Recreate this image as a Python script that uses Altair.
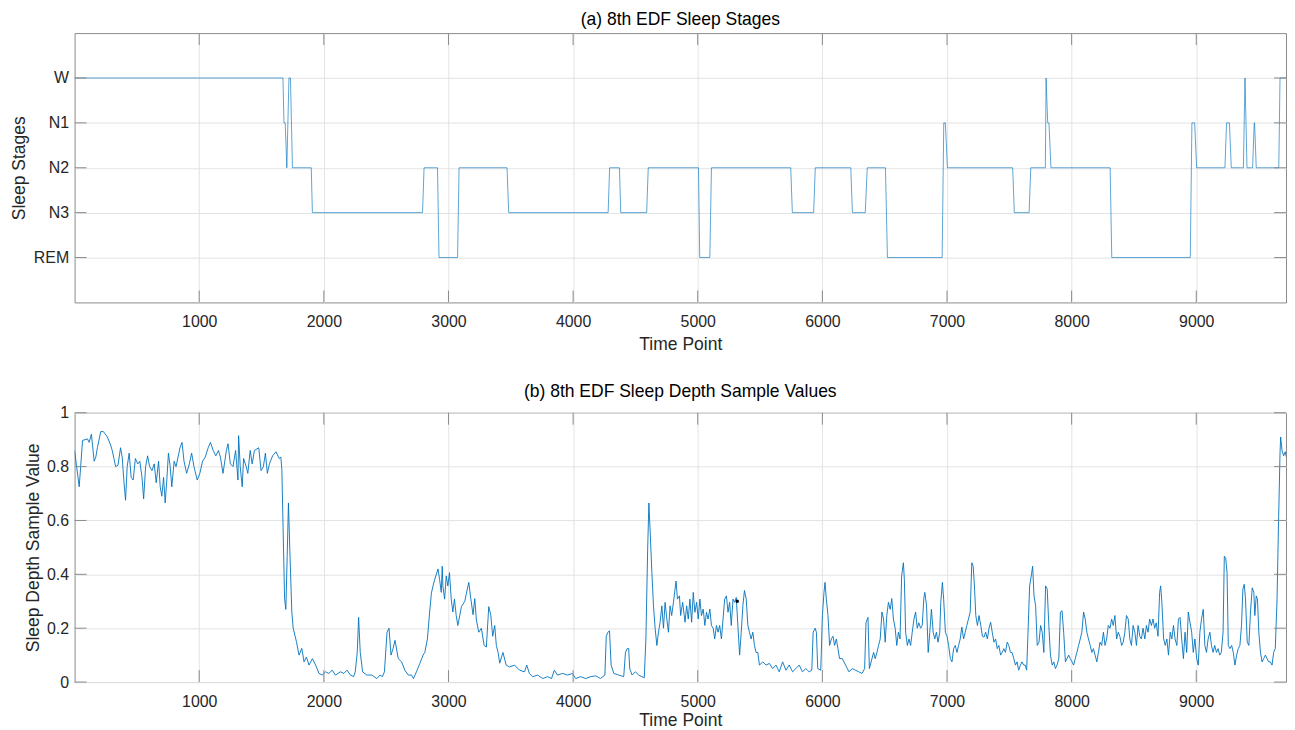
import altair as alt
import pandas as pd

# ---------------- data ----------------
stage_labels = ["REM", "N3", "N2", "N1", "W"]

seg_start = [0, 1680, 1703, 1720, 1748, 1908, 2804, 2924, 3085, 3483, 4293, 4382, 4603,
             5016, 5110, 5759, 5943, 6241, 6360, 6522, 6974, 7003, 7540, 7672, 7795,
             7808, 7834, 8322, 8965, 9003, 9243, 9281, 9391, 9407, 9465, 9481, 9672]
seg_end = [1672, 1690, 1703, 1732, 1899, 2792, 2912, 3073, 3470, 4281, 4372, 4590, 5006,
           5097, 5746, 5930, 6228, 6344, 6506, 6961, 6987, 7527, 7659, 7789, 7795,
           7818, 8309, 8952, 8987, 9230, 9266, 9378, 9391, 9452, 9468, 9662, 9720]
seg_stage = ["W", "N1", "N2", "W", "N2", "N3", "N2", "REM", "N2", "N3", "N2", "N3", "N2",
             "REM", "N2", "N3", "N2", "N3", "N2", "REM", "N1", "N2", "N3", "N2", "W",
             "N1", "N2", "REM", "N1", "N2", "N1", "N2", "W", "N2", "N1", "N2", "W"]

depth_t = [
    0, 37, 64, 103, 117, 135, 157, 170, 183, 210, 231, 263, 289, 302, 316, 329, 348, 369, 382, 395,
    409, 422, 438, 454, 470, 488, 507, 523, 541, 554, 570, 586, 602, 621, 639, 655, 674, 687, 700, 714,
    727, 740, 753, 767, 780, 799, 814, 846, 862, 878, 899, 921, 939, 958, 984, 1005, 1027, 1048, 1072, 1090,
    1112, 1133, 1154, 1170, 1191, 1218, 1231, 1250, 1271, 1292, 1311, 1316, 1329, 1345, 1356, 1377, 1390, 1409, 1425, 1443,
    1478, 1496, 1515, 1531, 1547, 1563, 1589, 1616, 1642, 1655, 1663, 1674, 1685, 1695, 1706, 1716, 1727, 1743, 1754, 1780,
    1801, 1823, 1841, 1860, 1881, 1908, 1934, 1961, 1987, 2014, 2040, 2067, 2093, 2133, 2160, 2186, 2213, 2239, 2252, 2268,
    2279, 2292, 2311, 2345, 2385, 2425, 2451, 2470, 2486, 2507, 2523, 2539, 2555, 2571, 2597, 2624, 2650, 2677, 2703, 2719,
    2743, 2770, 2796, 2810, 2831, 2849, 2863, 2876, 2889, 2916, 2929, 2942, 2950, 2955, 2969, 2982, 2995, 3008, 3022, 3035,
    3048, 3062, 3075,
    3104, 3131, 3144, 3163, 3179, 3197, 3211, 3224, 3243, 3264, 3286, 3304, 3323, 3339, 3355, 3371, 3384, 3398, 3411,
    3437, 3463, 3490, 3530, 3570, 3610, 3628, 3649, 3676, 3716, 3756, 3795, 3827, 3849, 3875, 3915, 3955, 3995, 4021, 4061,
    4101, 4141, 4181, 4220, 4255, 4266, 4279, 4292, 4305, 4327, 4367, 4406, 4420, 4433, 4446, 4454, 4473, 4499, 4526, 4552,
    4571, 4584, 4598, 4608, 4619, 4632, 4645, 4658, 4672, 4685, 4698, 4712, 4725, 4738, 4752, 4765, 4778, 4791, 4805, 4818,
    4826, 4837, 4853, 4863, 4879, 4898, 4911, 4924, 4937, 4951, 4964, 4977, 4991, 5004, 5017, 5030, 5044, 5057, 5070, 5083,
    5097, 5110, 5124, 5136, 5150, 5163, 5176, 5190, 5203, 5216, 5230, 5243, 5256, 5269, 5283, 5296, 5309, 5322, 5336, 5349,
    5362, 5375, 5389, 5402, 5415, 5428, 5442, 5455, 5468, 5482, 5495, 5522, 5548, 5575, 5601, 5628, 5654, 5681, 5708, 5734,
    5761, 5787, 5814, 5840, 5867, 5894, 5915, 5926, 5942, 5952, 5963, 5987, 6000, 6013, 6021, 6032, 6045, 6058, 6072, 6085,
    6098, 6112, 6125, 6138, 6160, 6186, 6213, 6240,
    6265, 6292, 6318, 6339, 6350, 6366, 6377, 6398, 6411, 6424, 6438, 6451, 6464, 6478, 6491, 6504, 6517, 6530, 6544, 6557,
    6570, 6584, 6597, 6610, 6623, 6636, 6650, 6658, 6668, 6682, 6695, 6708, 6721, 6735, 6748, 6761, 6774, 6788, 6801, 6814,
    6822, 6836, 6849, 6862, 6875, 6889, 6902, 6915, 6928, 6942, 6950, 6963, 6973, 6987, 7000, 7013, 7027, 7040, 7053, 7066,
    7080, 7093, 7106, 7119, 7133, 7146, 7159, 7172, 7186, 7199, 7210, 7220, 7231, 7244, 7257, 7271, 7284, 7297, 7310, 7324,
    7337, 7350, 7363, 7377, 7390, 7403, 7416, 7430, 7443, 7456, 7469, 7483, 7496, 7509, 7522, 7536, 7549, 7562, 7575, 7589,
    7602, 7615, 7628, 7639, 7650, 7663, 7676, 7687, 7698, 7711, 7724, 7738, 7751, 7764, 7777, 7791, 7804, 7817, 7830, 7844,
    7857, 7870, 7883, 7897, 7910, 7923, 7936, 7950, 7963, 7976, 7989, 8003, 8016, 8029, 8042, 8056, 8069, 8082, 8096, 8109,
    8122, 8135, 8149, 8162, 8175, 8188, 8202, 8215, 8228, 8241, 8255, 8268, 8281, 8294, 8308, 8321, 8334, 8347, 8361, 8374,
    8387, 8401, 8414, 8427, 8440, 8454, 8467, 8480, 8493, 8507, 8520, 8533, 8547, 8560, 8573, 8587, 8600, 8613, 8626, 8640,
    8653, 8666, 8679, 8693, 8706, 8714, 8724, 8738, 8751, 8764, 8777, 8791, 8804, 8817, 8830, 8844, 8857, 8870, 8883, 8897,
    8910, 8923, 8936, 8950, 8963, 8976, 8989, 9003, 9016, 9029, 9042, 9056, 9069, 9082, 9095, 9109, 9122, 9135, 9148, 9162,
    9175, 9188, 9201, 9215, 9225, 9236, 9247, 9257, 9270, 9284, 9297, 9310, 9324, 9337, 9350, 9363, 9374, 9385, 9395, 9409,
    9422, 9435, 9449, 9462, 9470, 9481, 9491, 9502, 9515, 9528, 9541, 9555, 9568, 9581, 9594, 9608, 9621, 9634, 9648, 9661,
    9672, 9677, 9688, 9701, 9714, 9722,
]
depth_v = [
    0.86, 0.725, 0.897, 0.903, 0.89, 0.92, 0.82, 0.835, 0.87, 0.93, 0.93, 0.91, 0.88, 0.86, 0.83, 0.80, 0.805, 0.87, 0.835, 0.75,
    0.675, 0.80, 0.85, 0.76, 0.75, 0.83, 0.81, 0.82, 0.76, 0.68, 0.80, 0.84, 0.80, 0.785, 0.81, 0.74, 0.82, 0.725, 0.69, 0.76,
    0.665, 0.75, 0.85, 0.80, 0.725, 0.82, 0.80, 0.87, 0.89, 0.82, 0.775, 0.81, 0.85, 0.80, 0.75, 0.775, 0.82, 0.835, 0.87, 0.89,
    0.86, 0.84, 0.86, 0.835, 0.775, 0.86, 0.885, 0.81, 0.80, 0.86, 0.75, 0.915, 0.80, 0.725, 0.83, 0.80, 0.775, 0.86, 0.81, 0.86,
    0.87, 0.785, 0.80, 0.85, 0.775, 0.81, 0.84, 0.855, 0.83, 0.835, 0.79, 0.55, 0.31, 0.27, 0.47, 0.665, 0.49, 0.26, 0.20, 0.15,
    0.10, 0.125, 0.075, 0.093, 0.063, 0.087, 0.063, 0.032, 0.026, 0.038, 0.032, 0.044, 0.026, 0.038, 0.032, 0.044, 0.026, 0.02, 0.038, 0.11,
    0.24, 0.11, 0.038, 0.026, 0.026, 0.013, 0.026, 0.02, 0.038, 0.185, 0.20, 0.10, 0.124, 0.155, 0.087, 0.075, 0.044, 0.026, 0.026, 0.013,
    0.038, 0.069, 0.10, 0.11, 0.16, 0.26, 0.33, 0.357, 0.38, 0.42, 0.38, 0.333, 0.43, 0.357, 0.308, 0.394, 0.357, 0.406, 0.308, 0.26,
    0.308, 0.247, 0.21,
    0.28, 0.30, 0.33, 0.37, 0.31, 0.25, 0.31, 0.23, 0.185, 0.20, 0.136, 0.13, 0.28, 0.25, 0.17, 0.21, 0.136, 0.11, 0.07,
    0.11, 0.063, 0.056, 0.063, 0.044, 0.038, 0.063, 0.032, 0.02, 0.026, 0.013, 0.02, 0.013, 0.044, 0.026, 0.032, 0.026, 0.032, 0.013, 0.02,
    0.013, 0.02, 0.023, 0.013, 0.026, 0.17, 0.185, 0.19, 0.063, 0.032, 0.026, 0.02, 0.11, 0.124, 0.124, 0.05, 0.026, 0.038, 0.026, 0.02,
    0.016, 0.16, 0.49, 0.665, 0.55, 0.406, 0.283, 0.20, 0.136, 0.185, 0.222, 0.283, 0.20, 0.296, 0.234, 0.185, 0.283, 0.247, 0.296, 0.345,
    0.375, 0.308, 0.32, 0.247, 0.296, 0.222, 0.283, 0.234, 0.308, 0.222, 0.333, 0.259, 0.296, 0.234, 0.308, 0.247, 0.271, 0.21, 0.259, 0.234,
    0.271, 0.21, 0.20, 0.16, 0.21, 0.185, 0.21, 0.16, 0.234, 0.308, 0.32, 0.259, 0.296, 0.21, 0.308, 0.296, 0.314, 0.21, 0.10, 0.185,
    0.283, 0.34, 0.308, 0.21, 0.185, 0.16, 0.185, 0.136, 0.11, 0.11, 0.063, 0.075, 0.063, 0.069, 0.05, 0.063, 0.038, 0.075, 0.044, 0.063,
    0.038, 0.05, 0.063, 0.038, 0.05, 0.038, 0.044, 0.185, 0.20, 0.185, 0.05, 0.044, 0.247, 0.333, 0.37, 0.308, 0.247, 0.136, 0.16, 0.17,
    0.136, 0.16, 0.124, 0.087, 0.087, 0.063, 0.038, 0.05,
    0.044, 0.038, 0.032, 0.05, 0.22, 0.24, 0.05, 0.087, 0.11, 0.087, 0.11, 0.136, 0.16, 0.26, 0.234, 0.148, 0.247, 0.296, 0.27, 0.31,
    0.234, 0.20, 0.136, 0.185, 0.16, 0.394, 0.443, 0.38, 0.185, 0.136, 0.16, 0.136, 0.185, 0.234, 0.26, 0.20, 0.22, 0.20, 0.21, 0.31,
    0.333, 0.283, 0.11, 0.185, 0.27, 0.185, 0.16, 0.185, 0.148, 0.185, 0.296, 0.37, 0.308, 0.185, 0.17, 0.136, 0.087, 0.075, 0.124, 0.136,
    0.11, 0.136, 0.16, 0.204, 0.16, 0.185, 0.21, 0.234, 0.26, 0.443, 0.43, 0.357, 0.247, 0.21, 0.247, 0.21, 0.17, 0.167, 0.185, 0.16,
    0.20, 0.222, 0.185, 0.148, 0.16, 0.124, 0.136, 0.10, 0.11, 0.124, 0.11, 0.148, 0.136, 0.11, 0.11, 0.087, 0.063, 0.075, 0.044, 0.063,
    0.075, 0.063, 0.063, 0.044, 0.185, 0.357, 0.394, 0.43, 0.32, 0.283, 0.136, 0.148, 0.21, 0.185, 0.11, 0.357, 0.345, 0.21, 0.10, 0.063,
    0.075, 0.05, 0.063, 0.087, 0.26, 0.265, 0.185, 0.075, 0.087, 0.10, 0.087, 0.075, 0.063, 0.087, 0.11, 0.136, 0.16, 0.185, 0.26, 0.234,
    0.185, 0.16, 0.136, 0.11, 0.124, 0.10, 0.075, 0.11, 0.148, 0.136, 0.185, 0.136, 0.16, 0.21, 0.20, 0.234, 0.21, 0.247, 0.16, 0.185,
    0.17, 0.136, 0.148, 0.185, 0.247, 0.234, 0.16, 0.136, 0.21, 0.185, 0.136, 0.21, 0.17, 0.16, 0.20, 0.16, 0.21, 0.185, 0.234, 0.21,
    0.234, 0.20, 0.22, 0.17, 0.333, 0.357, 0.296, 0.16, 0.136, 0.16, 0.10, 0.185, 0.16, 0.21, 0.16, 0.136, 0.234, 0.24, 0.16, 0.087,
    0.185, 0.11, 0.26, 0.22, 0.185, 0.11, 0.16, 0.087, 0.063, 0.185, 0.234, 0.27, 0.136, 0.11, 0.16, 0.185, 0.136, 0.11, 0.136, 0.11,
    0.124, 0.10, 0.11, 0.185, 0.467, 0.461, 0.406, 0.136, 0.124, 0.136, 0.11, 0.063, 0.10, 0.124, 0.136, 0.21, 0.345, 0.363, 0.308, 0.148,
    0.136, 0.26, 0.35, 0.333, 0.247, 0.32, 0.308, 0.185, 0.11, 0.075, 0.087, 0.10, 0.087, 0.075, 0.075, 0.063, 0.11, 0.124, 0.308, 0.615,
    0.85, 0.91, 0.86, 0.84, 0.855, 0.836,
]

marker_t = [5317]
marker_v = [0.30]

x_ticks = [1000, 2000, 3000, 4000, 5000, 6000, 7000, 8000, 9000]
depth_ticks = [0, 0.2, 0.4, 0.6, 0.8, 1]
stage_ticks = [1, 2, 3, 4, 5]
x_max = 9720

# ---------------- build tables ----------------
rows = []
for s, e, st in zip(seg_start, seg_end, seg_stage):
    lvl = stage_labels.index(st) + 1
    rows.append({"t": s, "stage": lvl})
    if e != s:
        rows.append({"t": e, "stage": lvl})
stages_df = pd.DataFrame(rows)
depth_df = pd.DataFrame({"t": depth_t, "v": depth_v})
marker_df = pd.DataFrame({"t": marker_t, "v": marker_v})
xt_df = pd.DataFrame({"t": x_ticks})
st_df = pd.DataFrame({"stage": stage_ticks})
dt_df = pd.DataFrame({"v": depth_ticks})

# ---------------- styling ----------------
W, H = 1219, 271
TICK = 12
FONT = "Liberation Sans"
AX = "#8a8a8a"
LINE = "#0072BD"

xscale = alt.Scale(domain=[0, x_max], nice=False, zero=False)
x_axis_top = alt.Axis(values=x_ticks, format="d", title="Time Point", grid=True,
                      labelPadding=11, titlePadding=6)
x_axis_bot = alt.Axis(values=x_ticks, format="d", title="Time Point", grid=True,
                      labelPadding=12, titlePadding=2)

stage_scale = alt.Scale(domain=[0, 6], nice=False, zero=False)
label_js = "[''," + ",".join("'%s'" % s for s in stage_labels) + "][datum.value]"
stage_axis = alt.Axis(values=stage_ticks, labelExpr=label_js, title="Sleep Stages",
                      grid=True, labelPadding=6, titlePadding=5)

depth_scale = alt.Scale(domain=[0, 1], nice=False, zero=False)
depth_axis = alt.Axis(values=depth_ticks, format="~g", title="Sleep Depth Sample Value",
                      grid=True, labelPadding=6, titlePadding=4)


def x_tick_layers(x_axis):
    base = alt.Chart(xt_df).mark_rule(color=AX, strokeWidth=1)
    bottom = base.encode(x=alt.X("t:Q", scale=xscale, axis=x_axis),
                         y=alt.value(H), y2=alt.value(H - TICK))
    top = base.encode(x=alt.X("t:Q", scale=xscale, axis=x_axis),
                      y=alt.value(0), y2=alt.value(TICK))
    return [bottom, top]


def y_tick_layers(df, field, scale, axis):
    base = alt.Chart(df).mark_rule(color=AX, strokeWidth=1)
    left = base.encode(y=alt.Y(field + ":Q", scale=scale, axis=axis),
                       x=alt.value(0), x2=alt.value(TICK))
    right = base.encode(y=alt.Y(field + ":Q", scale=scale, axis=axis),
                        x=alt.value(W), x2=alt.value(W - TICK))
    return [left, right]


top_line = alt.Chart(stages_df).mark_line(color=LINE, strokeWidth=0.8, opacity=0.8, clip=True).encode(
    x=alt.X("t:Q", scale=xscale, axis=x_axis_top),
    y=alt.Y("stage:Q", scale=stage_scale, axis=stage_axis),
)
top = alt.layer(top_line, *x_tick_layers(x_axis_top),
                *y_tick_layers(st_df, "stage", stage_scale, stage_axis)).properties(
    width=W, height=H,
    title=alt.TitleParams("(a) 8th EDF Sleep Stages", anchor="middle"),
)

bottom_line = alt.Chart(depth_df).mark_line(color=LINE, strokeWidth=0.9, clip=True).encode(
    x=alt.X("t:Q", scale=xscale, axis=x_axis_bot),
    y=alt.Y("v:Q", scale=depth_scale, axis=depth_axis),
)
marker = alt.Chart(marker_df).mark_circle(color="black", size=12, opacity=1).encode(
    x=alt.X("t:Q", scale=xscale, axis=x_axis_bot),
    y=alt.Y("v:Q", scale=depth_scale, axis=depth_axis),
)
bottom = alt.layer(bottom_line, marker, *x_tick_layers(x_axis_bot),
                   *y_tick_layers(dt_df, "v", depth_scale, depth_axis)).properties(
    width=W, height=H,
    title=alt.TitleParams("(b) 8th EDF Sleep Depth Sample Values", anchor="middle"),
)

chart = alt.vconcat(top, bottom, spacing=28).properties(
    padding={"left": 1, "top": 0, "right": 0, "bottom": 0}
).configure_view(
    stroke=AX, strokeWidth=1
).configure_axis(
    domain=False, tickSize=0, gridColor="#e3e3e3", gridWidth=1,
    labelFont=FONT, labelFontSize=16, labelColor="#262626",
    titleFont=FONT, titleFontSize=17.6, titleFontWeight="normal", titleColor="#262626",
).configure_title(
    font=FONT, fontSize=17.6, fontWeight="normal", color="#000000", offset=0,
)

chart.save("out.html", embed_options={"renderer": "svg", "actions": False})
